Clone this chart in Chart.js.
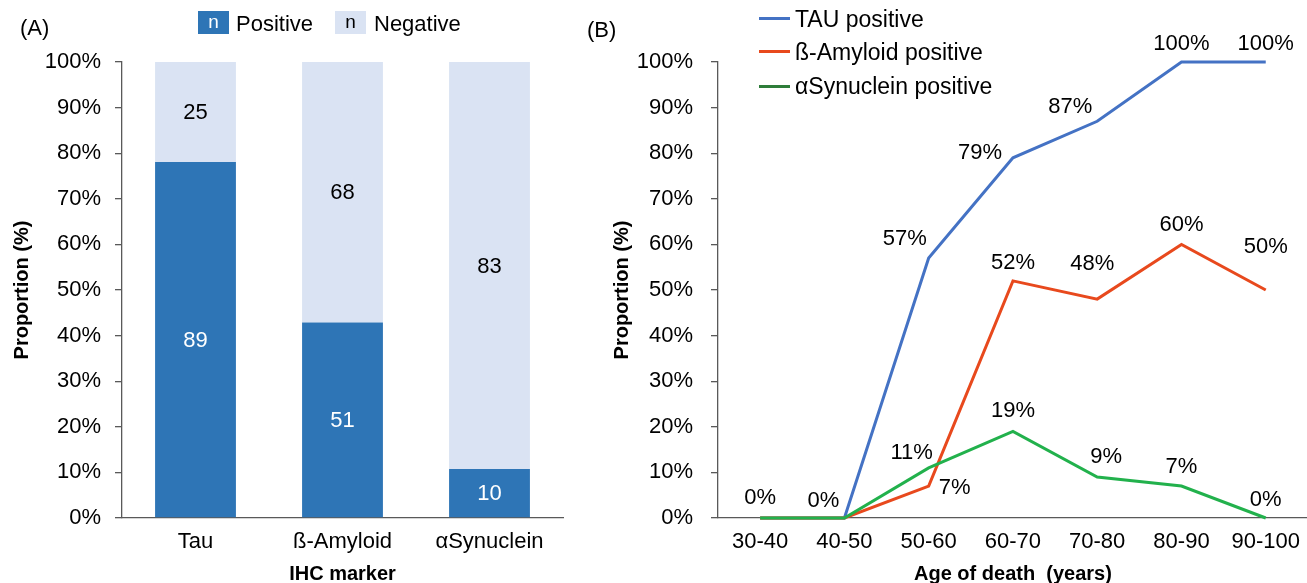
<!DOCTYPE html>
<html><head><meta charset="utf-8">
<script src="https://cdn.jsdelivr.net/npm/chart.js@4.4.1/dist/chart.umd.min.js"></script>
<style>
html,body{margin:0;padding:0;background:#fff;overflow:hidden;width:1307px;height:583px;}
body{position:relative;font-family:"Liberation Sans",Arial,sans-serif;color:#000;}
#wrapA{position:absolute;left:0;top:0;width:590px;height:583px;}
#wrapB{position:absolute;left:600px;top:0;width:711px;height:583px;}
.t{position:absolute;font-size:22px;line-height:24px;white-space:nowrap;}
.t2{position:absolute;font-size:23px;line-height:24px;white-space:nowrap;}
.box{position:absolute;width:31px;height:23px;font-size:19px;line-height:21px;text-align:center;}
.ln{position:absolute;width:31px;height:3px;}
</style></head><body>
<div id="wrapA"><canvas id="chartA" width="590" height="583"></canvas></div>
<div id="wrapB"><canvas id="chartB" width="711" height="583"></canvas></div>

<div class="t" style="left:20px;top:16px;">(A)</div>
<div class="box" style="left:198px;top:11px;background:#2E75B6;color:#fff;">n</div>
<div class="t" style="left:236px;top:12px;">Positive</div>
<div class="box" style="left:335px;top:11px;background:#DAE3F3;color:#000;">n</div>
<div class="t" style="left:374px;top:12px;">Negative</div>

<div class="t" style="left:587px;top:18px;">(B)</div>
<div class="ln" style="left:759px;top:17px;background:#4472C4;"></div>
<div class="t2" style="left:795px;top:7px;">TAU positive</div>
<div class="ln" style="left:759px;top:50px;background:#E8491D;"></div>
<div class="t2" style="left:795px;top:40px;">ß-Amyloid positive</div>
<div class="ln" style="left:759px;top:85px;background:#2E7D3A;"></div>
<div class="t2" style="left:795px;top:74px;">αSynuclein positive</div>

<script>
// ---------- data ----------
const markers = ['Tau', 'ß-Amyloid', 'αSynuclein'];
const positiveCounts = [89, 51, 10];
const negativeCounts = [25, 68, 83];

const ageGroups = ['30-40', '40-50', '50-60', '60-70', '70-80', '80-90', '90-100'];
const tauPositive = [0, 0, 57, 79, 87, 100, 100];
const amyloidPositive = [0, 0, 7, 52, 48, 60, 50];
const synucleinPositive = [0, 0, 11, 19, 9, 7, 0];

const yTickValues = [0, 10, 20, 30, 40, 50, 60, 70, 80, 90, 100];

// which line points carry a visible value label
const tauShown = [false, false, true, true, true, true, true];
const amyloidShown = [false, false, true, true, true, true, true];
const synucleinShown = [true, true, true, true, true, true, true];

// ---------- styling ----------
const FONT = '"Liberation Sans", Arial, sans-serif';
const AXIS = '#595959';

const positivePct = positiveCounts.map((p, i) => p / (p + negativeCounts[i]) * 100);
const negativePct = negativeCounts.map((n, i) => n / (positiveCounts[i] + n) * 100);

const dataLabelPlugin = {
  id: 'dataLabels',
  afterDatasetsDraw(chart) {
    const ctx = chart.ctx;
    ctx.save();
    ctx.font = '22px ' + FONT;
    ctx.textAlign = 'center';
    ctx.textBaseline = 'middle';
    chart.data.datasets.forEach((ds, i) => {
      if (!ds.valueLabels) return;
      const meta = chart.getDatasetMeta(i);
      meta.data.forEach((el, j) => {
        const txt = ds.valueLabels[j];
        if (txt == null) return;
        let x = el.x, y = el.y;
        if (meta.type === 'bar') y = (el.y + el.base) / 2;
        const off = ds.labelOffsets ? ds.labelOffsets[j] : [0, 0];
        ctx.fillStyle = ds.labelColor || '#000';
        ctx.fillText(txt, x + off[0], y + off[1] + 1);
      });
    });
    ctx.restore();
  }
};

function yAxis(pad, width, stacked) {
  return {
    stacked: stacked,
    min: 0, max: 100,
    afterBuildTicks: s => { s.ticks = yTickValues.map(v => ({ value: v })); },
    ticks: { callback: v => v + '%', color: '#000', font: { family: FONT, size: 22 }, padding: pad },
    grid: { display: true, drawOnChartArea: false, drawTicks: true, tickLength: 7, color: AXIS, lineWidth: 1.3 },
    border: { display: true, color: AXIS, width: 1.3 },
    title: { display: true, text: 'Proportion (%)', color: '#000',
      font: { family: FONT, size: 20, weight: 'bold', lineHeight: 1 }, padding: { top: 12, bottom: 0 } },
    afterFit: s => { s.width = width; }
  };
}

function xAxis(title, stacked) {
  return {
    stacked: stacked,
    offset: true,
    grid: { display: false, drawTicks: false },
    border: { display: true, color: AXIS, width: 1.3 },
    ticks: { color: '#000', font: { family: FONT, size: 22 }, padding: 11, maxRotation: 0, autoSkip: false },
    title: { display: true, text: title, color: '#000',
      font: { family: FONT, size: 20, weight: 'bold', lineHeight: 0.9 }, padding: { top: 0, bottom: 0 } },
    afterFit: s => { s.height = 65; }
  };
}

const common = {
  responsive: false,
  animation: false,
  devicePixelRatio: 1,
  plugins: { legend: { display: false }, tooltip: { enabled: false } }
};

new Chart(document.getElementById('chartA'), {
  type: 'bar',
  data: {
    labels: markers,
    datasets: [
      { label: 'Positive', data: positivePct, backgroundColor: '#2E75B6', borderWidth: 0,
        barPercentage: 0.55, categoryPercentage: 1,
        valueLabels: positiveCounts.map(String), labelColor: '#fff' },
      { label: 'Negative', data: negativePct, backgroundColor: '#DAE3F3', borderWidth: 0,
        barPercentage: 0.55, categoryPercentage: 1,
        valueLabels: negativeCounts.map(String), labelColor: '#000' }
    ]
  },
  options: Object.assign({}, common, {
    layout: { padding: { top: 62, left: 0, right: 27, bottom: 0 } },
    scales: { x: xAxis('IHC marker', true), y: yAxis(14, 122, true) }
  }),
  plugins: [dataLabelPlugin]
});

function lineLabels(values, shown) {
  return values.map((v, i) => shown[i] ? v + '%' : null);
}

new Chart(document.getElementById('chartB'), {
  type: 'line',
  data: {
    labels: ageGroups,
    datasets: [
      { label: 'TAU positive', data: tauPositive, borderColor: '#4472C4', backgroundColor: '#4472C4',
        borderWidth: 3, pointRadius: 0, tension: 0, clip: false, order: 2,
        valueLabels: lineLabels(tauPositive, tauShown),
        labelOffsets: [null, null, [-24, -20], [-33, -6], [-27, -15], [0, -19], [0, -19]] },
      { label: 'ß-Amyloid positive', data: amyloidPositive, borderColor: '#E8491D', backgroundColor: '#E8491D',
        borderWidth: 3, pointRadius: 0, tension: 0, clip: false, order: 1,
        valueLabels: lineLabels(amyloidPositive, amyloidShown),
        labelOffsets: [null, null, [26, 1], [0, -19], [-5, -36], [0, -20], [0, -44]] },
      { label: 'αSynuclein positive', data: synucleinPositive, borderColor: '#22B14C', backgroundColor: '#22B14C',
        borderWidth: 3, pointRadius: 0, tension: 0, clip: false, order: 0,
        valueLabels: lineLabels(synucleinPositive, synucleinShown),
        labelOffsets: [[0, -21], [-21, -18], [-17, -16], [0, -21], [9, -21], [0, -20], [0, -19]] }
    ]
  },
  options: Object.assign({}, common, {
    layout: { padding: { top: 62, left: 0, right: 0, bottom: 0 } },
    scales: { x: xAxis('Age of death  (years)', false), y: yAxis(18, 118, false) }
  }),
  plugins: [dataLabelPlugin]
});
</script>
</body></html>
